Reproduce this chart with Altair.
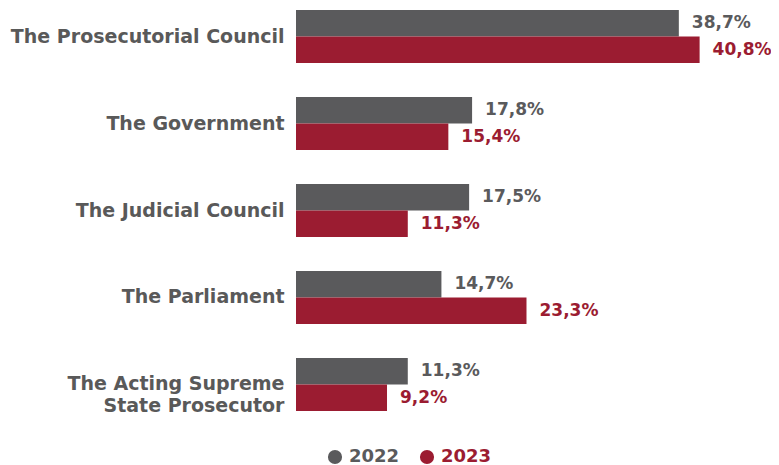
import altair as alt
import pandas as pd

categories = ["The Prosecutorial Council", "The Government", "The Judicial Council",
              "The Parliament", "The Acting Supreme|State Prosecutor"]
years = ["2022", "2023"]
values_2022 = [38.7, 17.8, 17.5, 14.7, 11.3]
values_2023 = [40.8, 15.4, 11.3, 23.3, 9.2]

rows = []
for c, a, b in zip(categories, values_2022, values_2023):
    rows.append({"cat": c, "year": "2022", "val": a, "lbl": f"{a:.1f}%".replace(".", ",")})
    rows.append({"cat": c, "year": "2023", "val": b, "lbl": f"{b:.1f}%".replace(".", ",")})
df = pd.DataFrame(rows)

GRAY = "#5a5a5c"
RED = "#9b1c31"
FONT = "DejaVu Sans"

color = alt.Color("year:N", scale=alt.Scale(domain=years, range=[GRAY, RED]),
                  legend=alt.Legend(title=None, orient="none", legendX=30, legendY=438,
                                    direction="horizontal", symbolType="circle",
                                    symbolSize=200, symbolStrokeWidth=0, symbolOpacity=1,
                                    labelFont=FONT, labelFontSize=18, labelFontWeight="bold",
                                    labelColor=alt.ExprRef("datum.value == '2022' ? '#5a5a5c' : '#9b1c31'"),
                                    columnPadding=18, labelOffset=5))

y = alt.Y("cat:N", sort=categories, title=None,
          scale=alt.Scale(paddingInner=0.39, paddingOuter=0),
          axis=alt.Axis(domain=False, ticks=False, labelFont=FONT, labelFontSize=19,
                        labelFontWeight="bold", labelColor="#595959", labelPadding=12,
                        labelLimit=0,
                        labelExpr="split(datum.label, '|')", labelLineHeight=22))
yoff = alt.YOffset("year:N", sort=years, scale=alt.Scale(paddingInner=0, paddingOuter=0))
x = alt.X("val:Q", scale=alt.Scale(domain=[0, 46.5], nice=False), axis=None)

base = alt.Chart(df).encode(y=y, yOffset=yoff)
bars = base.mark_bar(cornerRadius=0).encode(x=x, color=color)
text = base.mark_text(align="left", baseline="middle", dx=13, font=FONT, fontSize=17,
                      fontWeight="bold").encode(
    x=x, text="lbl:N",
    color=alt.Color("year:N", scale=alt.Scale(domain=years, range=[GRAY, RED]), legend=None))

chart = (bars + text).properties(
    width=460, height=401,
    autosize=alt.AutoSizeParams(type="none"),
    padding={"left": 288, "top": 2, "right": 15, "bottom": 54},
    background="white",
).configure_view(stroke=None)

chart.save("out.html", embed_options={"renderer": "svg", "actions": False})
